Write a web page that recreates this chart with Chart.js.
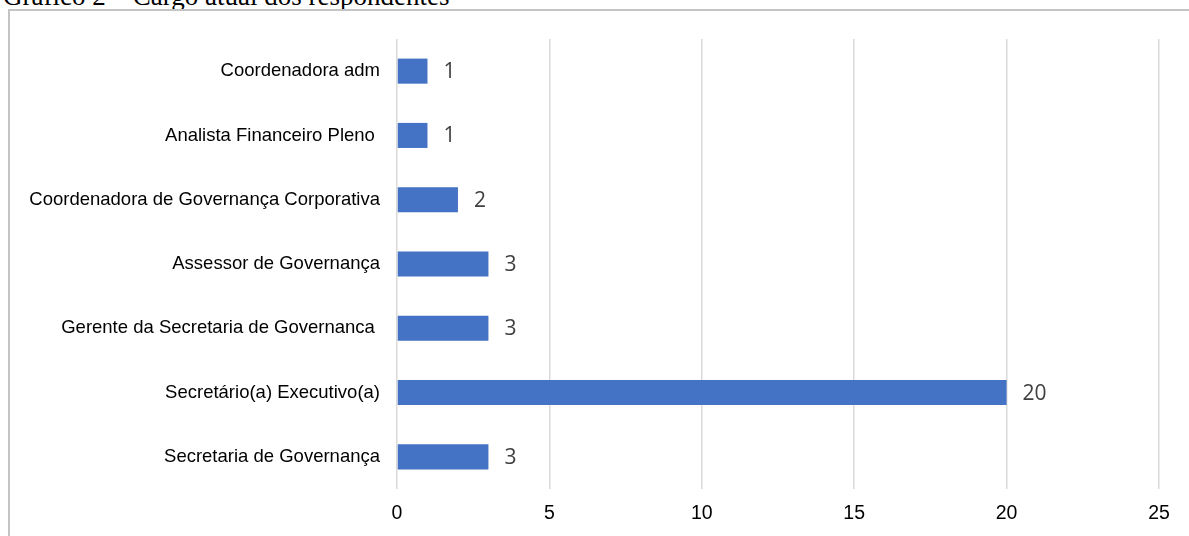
<!DOCTYPE html>
<html>
<head>
<meta charset="utf-8">
<script src="https://cdn.jsdelivr.net/npm/chart.js@4.4.0/dist/chart.umd.min.js"></script>
<style>
  html, body { margin: 0; padding: 0; background: #ffffff; overflow: hidden; }
  #page { position: relative; width: 1189px; height: 536px; overflow: hidden; }
  #title { position: absolute; left: 3px; top: -19.5px; font-family: "Liberation Serif", "Times New Roman", serif; font-size: 27px; color: #000; white-space: nowrap; }
  #box { position: absolute; left: 8px; top: 9px; width: 1300px; height: 700px; border: 2px solid #c4c4c4; box-sizing: border-box; }
  #wrap { position: absolute; left: 0; top: 0; width: 1189px; height: 536px; }
</style>
</head>
<body>
<div id="page">
  <div id="title">Gráfico 2 – Cargo atual dos respondentes</div>
  <div id="box"></div>
  <div id="wrap"><canvas id="chart"></canvas></div>
</div>
<script>
// cargos, de cima para baixo
const categories = [
  'Coordenadora adm',
  'Analista Financeiro Pleno ',
  'Coordenadora de Governança Corporativa',
  'Assessor de Governança',
  'Gerente da Secretaria de Governanca ',
  'Secretário(a) Executivo(a)',
  'Secretaria de Governança'
];
const respondentes = [1, 1, 2, 3, 3, 20, 3];
const xTicks = [0, 5, 10, 15, 20, 25];

// rótulos de valor ao lado de cada barra
const valueLabels = {
  id: 'valueLabels',
  afterDatasetsDraw(chart) {
    const ctx = chart.ctx;
    const meta = chart.getDatasetMeta(0);
    ctx.save();
    ctx.font = '21px "Open Sans", "Noto Sans", sans-serif';
    ctx.fillStyle = '#404040';
    ctx.textAlign = 'left';
    ctx.textBaseline = 'middle';
    meta.data.forEach((bar, i) => {
      ctx.fillText(String(chart.data.datasets[0].data[i]), bar.x + 16, bar.y + 1);
    });
    ctx.restore();
  }
};

const ctx = document.getElementById('chart');
new Chart(ctx, {
  type: 'bar',
  data: {
    labels: categories,
    datasets: [{
      data: respondentes,
      backgroundColor: '#4472c4',
      borderWidth: 0,
      barPercentage: 0.39,
      categoryPercentage: 1
    }]
  },
  options: {
    indexAxis: 'y',
    responsive: true,
    maintainAspectRatio: false,
    animation: false,
    layout: { padding: { top: 39, right: 30, left: 0, bottom: 0 } },
    plugins: {
      legend: { display: false },
      tooltip: { enabled: false },
      title: { display: false }
    },
    scales: {
      x: {
        min: 0,
        max: 25,
        afterBuildTicks(scale) { scale.ticks = xTicks.map(v => ({ value: v })); },
        afterFit(scale) { scale.height = 47; },
        grid: { color: '#d9d9d9', lineWidth: 1.5, drawTicks: false },
        border: { display: false },
        ticks: {
          padding: 13,
          color: '#000000',
          font: { family: '"Liberation Sans", Arial, sans-serif', size: 19.5 }
        }
      },
      y: {
        afterFit(scale) { scale.width = 397; },
        grid: { display: false, drawTicks: false },
        border: { display: false },
        ticks: {
          padding: 17,
          color: '#000000',
          font: { family: '"Liberation Sans", Arial, sans-serif', size: 18.5 }
        }
      }
    }
  },
  plugins: [valueLabels]
});
</script>
</body>
</html>
